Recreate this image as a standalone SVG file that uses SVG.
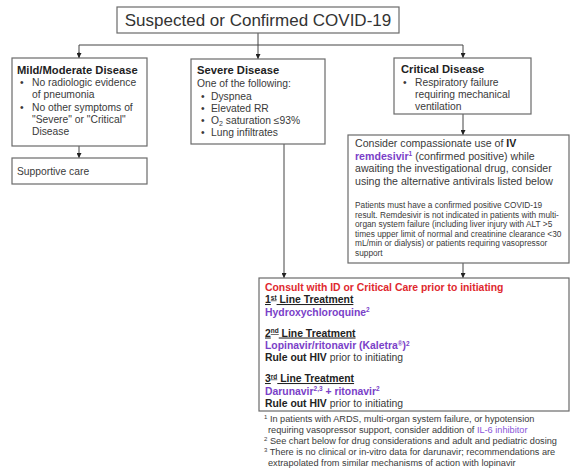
<svg xmlns="http://www.w3.org/2000/svg" width="571" height="472" viewBox="0 0 571 472">
<style>
text{font-family:"Liberation Sans",Arial,sans-serif;fill:#3a3a3a}
.box{fill:#fff;stroke:#6a6a6a;stroke-width:1.2}
.ln{fill:none;stroke:#444;stroke-width:1}
.t{font-size:11.2px;font-weight:bold;fill:#222}
.b{font-size:10.3px}
.s{font-size:8.3px}
.f{font-size:9.2px}
.m{font-size:10.6px}
.c{font-size:10.4px}
.bd{font-weight:bold;fill:#222}
.p{fill:#7a3fc8;font-weight:bold}
.r{fill:#e0282e;font-weight:bold}
.u{text-decoration:underline;font-weight:bold;fill:#222}
</style>
<defs>
<marker id="ah" viewBox="0 0 6 6" refX="6" refY="3" markerWidth="5" markerHeight="5" orient="auto" markerUnits="userSpaceOnUse">
<path d="M0,0 L6,3 L0,6 z" fill="#222"/>
</marker>
</defs>
<rect width="571" height="472" fill="#fff"/>
<g id="connectors">
<path class="ln" d="M258,33 V59" marker-end="url(#ah)"/>
<path class="ln" d="M79,58 V45 H463 V58" marker-end="url(#ah)"/>
<path class="ln" d="M79,52 V58" marker-end="url(#ah)"/>
<path class="ln" d="M79,146 V158" marker-end="url(#ah)"/>
<path class="ln" d="M463,114 V135" marker-end="url(#ah)"/>
<path class="ln" d="M284,144 V278" marker-end="url(#ah)"/>
<path class="ln" d="M463,263 V278" marker-end="url(#ah)"/>
</g>
<g id="title">
<rect class="box" x="117" y="7" width="282" height="26"/>
<text x="258" y="26" text-anchor="middle" font-size="17" style="fill:#333">Suspected or Confirmed COVID-19</text>
</g>
<g id="mild">
<rect class="box" x="12" y="58" width="135" height="88"/>
<text class="t" x="17" y="74">Mild/Moderate Disease</text>
<text class="b" x="20" y="86">•</text><text class="b" x="32" y="86">No radiologic evidence</text>
<text class="b" x="32" y="98">of pneumonia</text>
<text class="b" x="20" y="111">•</text><text class="b" x="32" y="111">No other symptoms of</text>
<text class="b" x="32" y="123">"Severe" or "Critical"</text>
<text class="b" x="32" y="135">Disease</text>
</g>
<g id="supportive">
<rect class="box" x="12" y="158" width="135" height="26"/>
<text class="b" x="17" y="175">Supportive care</text>
</g>
<g id="severe">
<rect class="box" x="191" y="59" width="134" height="85"/>
<text class="t" x="197" y="74">Severe Disease</text>
<text class="b" x="197" y="87">One of the following:</text>
<text class="b" x="201" y="100">•</text><text class="b" x="211" y="100">Dyspnea</text>
<text class="b" x="201" y="112">•</text><text class="b" x="211" y="112">Elevated RR</text>
<text class="b" x="201" y="124">•</text><text class="b" x="211" y="124">O<tspan font-size="7" dy="2">2</tspan><tspan dy="-2"> saturation ≤93%</tspan></text>
<text class="b" x="201" y="136">•</text><text class="b" x="211" y="136">Lung infiltrates</text>
</g>
<g id="critical">
<rect class="box" x="394" y="58" width="137" height="56"/>
<text class="t" x="401" y="73">Critical Disease</text>
<text class="b" x="403" y="86">•</text><text class="b" x="415" y="86">Respiratory failure</text>
<text class="b" x="415" y="98">requiring mechanical</text>
<text class="b" x="415" y="110">ventilation</text>
</g>
<g id="compassionate">
<rect class="box" x="348" y="135" width="221" height="128"/>
<text class="m" x="355" y="147">Consider compassionate use of <tspan class="bd">IV</tspan></text>
<text class="m" x="355" y="159.5"><tspan class="p">remdesivir<tspan font-size="6.5" dy="-3.5">1</tspan></tspan><tspan dy="3.5"> (confirmed positive) while</tspan></text>
<text class="m" x="355" y="172">awaiting the investigational drug, consider</text>
<text class="m" x="355" y="184.5">using the alternative antivirals listed below</text>
<text class="s" x="355" y="208">Patients must have a confirmed positive COVID-19</text>
<text class="s" x="355" y="217.5">result. Remdesivir is not indicated in patients with multi-</text>
<text class="s" x="355" y="227">organ system failure (including liver injury with ALT &gt;5</text>
<text class="s" x="355" y="236.5">times upper limit of normal and creatinine clearance &lt;30</text>
<text class="s" x="355" y="246">mL/min or dialysis) or patients requiring vasopressor</text>
<text class="s" x="355" y="255.5">support</text>
</g>
<g id="consult">
<rect class="box" x="259" y="278" width="310" height="133"/>
<text class="c r" x="265" y="291">Consult with ID or Critical Care prior to initiating</text>
<text class="c u" x="265" y="303">1<tspan font-size="6.5" dy="-3.5">st</tspan><tspan dy="3.5"> Line Treatment</tspan></text>
<text class="c p" x="265" y="315.5">Hydroxychloroquine<tspan font-size="6.5" dy="-3.5">2</tspan></text>
<text class="c u" x="265" y="336.5">2<tspan font-size="6.5" dy="-3.5">nd</tspan><tspan dy="3.5"> Line Treatment</tspan></text>
<text class="c p" x="265" y="349">Lopinavir/ritonavir (Kaletra<tspan font-size="6.5" dy="-3.5">®</tspan><tspan dy="3.5">)</tspan><tspan font-size="6.5" dy="-3.5">2</tspan></text>
<text class="c" x="265" y="361"><tspan class="bd">Rule out HIV</tspan> prior to initiating</text>
<text class="c u" x="265" y="382">3<tspan font-size="6.5" dy="-3.5">rd</tspan><tspan dy="3.5"> Line Treatment</tspan></text>
<text class="c p" x="265" y="394.5">Darunavir<tspan font-size="6.5" dy="-3.5">2,3</tspan><tspan dy="3.5"> + ritonavir</tspan><tspan font-size="6.5" dy="-3.5">2</tspan></text>
<text class="c" x="265" y="406.5"><tspan class="bd">Rule out HIV</tspan> prior to initiating</text>
</g>
<g id="footnotes">
<text class="f" x="264" y="421.5"><tspan font-size="6" dy="-3">1</tspan><tspan dy="3"> In patients with ARDS, multi-organ system failure, or hypotension</tspan></text>
<text class="f" x="268" y="432.5">requiring vasopressor support, consider addition of <tspan style="fill:#8a55d8">IL-6 inhibitor</tspan></text>
<text class="f" x="264" y="444"><tspan font-size="6" dy="-3">2</tspan><tspan dy="3"> See chart below for drug considerations and adult and pediatric dosing</tspan></text>
<text class="f" x="264" y="454.5"><tspan font-size="6" dy="-3">3</tspan><tspan dy="3"> There is no clinical or in-vitro data for darunavir; recommendations are</tspan></text>
<text class="f" x="268" y="465.5">extrapolated from similar mechanisms of action with lopinavir</text>
</g>
</svg>
